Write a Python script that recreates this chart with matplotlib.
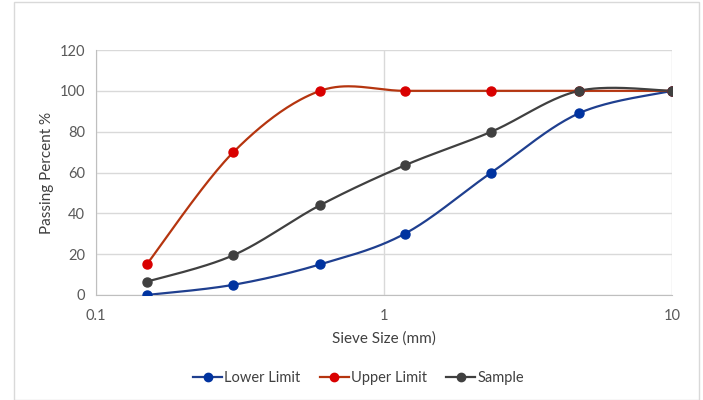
import matplotlib.pyplot as plt
import numpy as np
from matplotlib.patches import Rectangle

plt.rcParams['font.family'] = ['Lato', 'DejaVu Sans']

# sieve sizes (mm) and passing percentages
sieve = [0.15, 0.3, 0.6, 1.18, 2.36, 4.75, 10]
lower = [0, 5, 15, 30, 60, 89, 100]
upper = [15, 70, 100, 100, 100, 100, 100]
sample = [6.5, 19.5, 44, 63.5, 80, 100, 100]


def smooth(x, y, n=40):
    # Excel style smoothed line: catmull-rom bezier in log-x space
    lx = np.log10(x)
    y = np.asarray(y, float)
    pts = np.column_stack([lx, y])
    p = np.vstack([pts[0], pts, pts[-1]])
    out = []
    t = np.linspace(0, 1, n)[:, None]
    for i in range(1, len(p) - 2):
        p0, p1, p2, p3 = p[i - 1], p[i], p[i + 1], p[i + 2]
        c1 = p1 + (p2 - p0) / 6
        c2 = p2 - (p3 - p1) / 6
        seg = ((1 - t) ** 3) * p1 + 3 * ((1 - t) ** 2) * t * c1 + 3 * (1 - t) * t ** 2 * c2 + t ** 3 * p2
        out.append(seg if i == 1 else seg[1:])
    seg = np.vstack(out)
    return 10 ** seg[:, 0], seg[:, 1]


fig = plt.figure(figsize=(7.03, 4.0), dpi=100)
fig.patches.append(Rectangle((0.02, 0.0), 0.975, 0.995, transform=fig.transFigure,
                             fill=False, edgecolor='#d9d9d9', linewidth=1))
ax = fig.add_axes([0.1366, 0.2625, 0.8194, 0.6125])

series = [
    ("Lower Limit", lower, '#1f3f8f', '#0033a0'),
    ("Upper Limit", upper, '#b5350f', '#d90000'),
    ("Sample", sample, '#404040', '#404040'),
]
for name, vals, lc, mc in series:
    sx, sy = smooth(sieve, vals)
    ax.plot(sx, sy, color=lc, linewidth=1.6, zorder=3)
    ax.plot(sieve, vals, linestyle='none', marker='o', markersize=6.5,
            color=mc, zorder=4)
    ax.plot([], [], color=lc, linewidth=1.6, marker='o', markersize=6,
            markerfacecolor=mc, markeredgecolor=mc, label=name)

ax.set_xscale('log')
ax.set_xlim(0.1, 10)
ax.set_ylim(0, 120)
ax.set_yticks(range(0, 121, 20))
ax.set_xticks([0.1, 1, 10])
ax.set_xticklabels(['0.1', '1', '10'])
ax.minorticks_off()
ax.grid(True, color='#d9d9d9', linewidth=1)
ax.set_axisbelow(True)
for s in ['top', 'right']:
    ax.spines[s].set_visible(False)
for s in ['left', 'bottom']:
    ax.spines[s].set_color('#bfbfbf')
ax.tick_params(length=0, labelsize=10.5, labelcolor='#595959', pad=8)
ax.tick_params(axis='x', pad=10)

ax.set_xlabel('Sieve Size (mm)', fontsize=11, color='#404040', labelpad=6)
ax.set_ylabel('Passing Percent %', fontsize=11, color='#404040', labelpad=4)

fig.legend(loc='center', bbox_to_anchor=(0.51, 0.055), ncol=3, frameon=False,
           fontsize=10.5, handlelength=2.0, columnspacing=1.3, handletextpad=0.15,
           labelcolor='#404040')

fig.savefig('out.png', dpi=100)
